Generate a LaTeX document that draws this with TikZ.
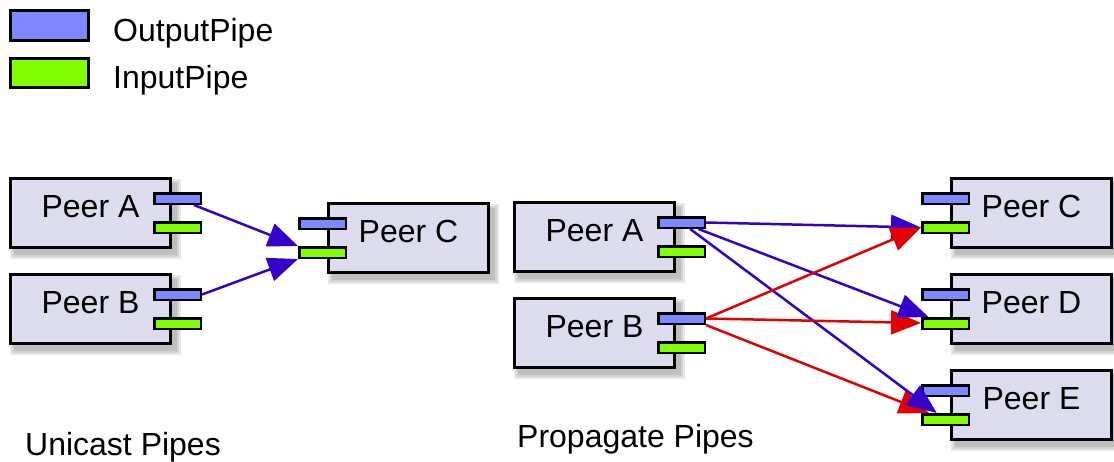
\documentclass[tikz,border=0pt]{standalone}
\usepackage{fontspec}
\setmainfont{Liberation Sans}
\usetikzlibrary{arrows.meta,calc}
\definecolor{boxfill}{RGB}{221,220,238}
\definecolor{outpipecol}{RGB}{127,135,255}
\definecolor{inpipecol}{RGB}{128,255,0}
\definecolor{blueline}{RGB}{51,0,204}
\definecolor{redline}{RGB}{228,0,0}
\tikzset{
  peerbox/.style={draw=black, line width=3pt, fill=boxfill, minimum width=160pt, minimum height=69pt, inner sep=0pt},
  outpipe/.style={draw=black, line width=2.5pt, fill=outpipecol, minimum width=46.5pt, minimum height=10.5pt, inner sep=0pt},
  inpipe/.style={draw=black, line width=2.5pt, fill=inpipecol, minimum width=46.5pt, minimum height=10.5pt, inner sep=0pt},
  legbox/.style={draw=black, line width=3pt, minimum width=78pt, inner sep=0pt},
  bigtext/.style={font=\fontsize{32}{38}\selectfont, inner sep=0pt},
  peerlabel/.style={bigtext, anchor=base},
  softshadow/.style={fill=black, opacity=0.09},
  pipearrow/.style={line width=2.5pt, -{Triangle[length=30pt,width=24pt]}},
  bluearrow/.style={pipearrow, draw=blueline, fill=blueline},
  redarrow/.style={pipearrow, draw=redline, fill=redline},
}
\newcommand\boxshadow[2]{%
  \foreach \e in {0,2,4}{\fill[softshadow] ({#1+5-\e},{#2+6-\e}) rectangle ({#1+168+\e},{#2+78+\e});}%
}
\newcommand\peerR[4]{%
  \boxshadow{#2}{#3}
  \node[peerbox] (#1) at ({#2+81.5},{#3+36}) {};
  \node[peerlabel] (#1l) at ({#2+81.5},{#3+40}) {#4};
  \node[outpipe] (#1o) at ({#2+168.5},{#3+21.5}) {};
  \node[inpipe] (#1i) at ({#2+168.5},{#3+50.5}) {};
}
\newcommand\peerL[4]{%
  \boxshadow{#2}{#3}
  \node[peerbox] (#1) at ({#2+81.5},{#3+36}) {};
  \node[peerlabel] (#1l) at ({#2+81.5},{#3+40}) {#4};
  \node[outpipe] (#1o) at ({#2-4.5},{#3+21.5}) {};
  \node[inpipe] (#1i) at ({#2-4.5},{#3+50.5}) {};
}
\begin{document}
\begin{tikzpicture}[x=1pt,y=-1pt]
\useasboundingbox[fill=white] (0,0) rectangle (1114,461);
% legend
\node[legbox, fill=outpipecol, minimum height=30pt] (legO) at (49.5,25.5) {};
\node[legbox, fill=inpipecol, minimum height=29pt] (legI) at (49.5,73) {};
\node[bigtext, anchor=base west] (legOt) at (113,41) {OutputPipe};
\node[bigtext, anchor=base west] (legIt) at (113,88) {InputPipe};
% unicast
\peerR{uA}{9}{177}{Peer A}
\peerR{uB}{9}{273}{Peer B}
\peerL{uC}{327}{202}{Peer C}
% propagate
\peerR{pA}{513}{201}{Peer A}
\peerR{pB}{513}{297}{Peer B}
\peerL{pC}{950}{177}{Peer C}
\peerL{pD}{950}{273}{Peer D}
\peerL{pE}{950}{369}{Peer E}
% titles
\node[bigtext, anchor=base west] (tU) at (25,455) {Unicast Pipes};
\node[bigtext, anchor=base west] (tP) at (517,447) {Propagate Pipes};
% arrows
\draw[bluearrow] (uAo) -- (uCi.north west);
\draw[bluearrow] (uBo.east) -- (uCi.south west);
\draw[redarrow] (pBo.south east) -- (pEi);
\draw[bluearrow] (pAo) -- (pEi);
\draw[redarrow] (pBo.east) -- (pDi);
\draw[bluearrow] (pAo) -- (pDi);
\draw[bluearrow] (pAo.east) -- (pCi.west);
\draw[redarrow] (pBo.east) -- (pCi.west);
\end{tikzpicture}
\end{document}
